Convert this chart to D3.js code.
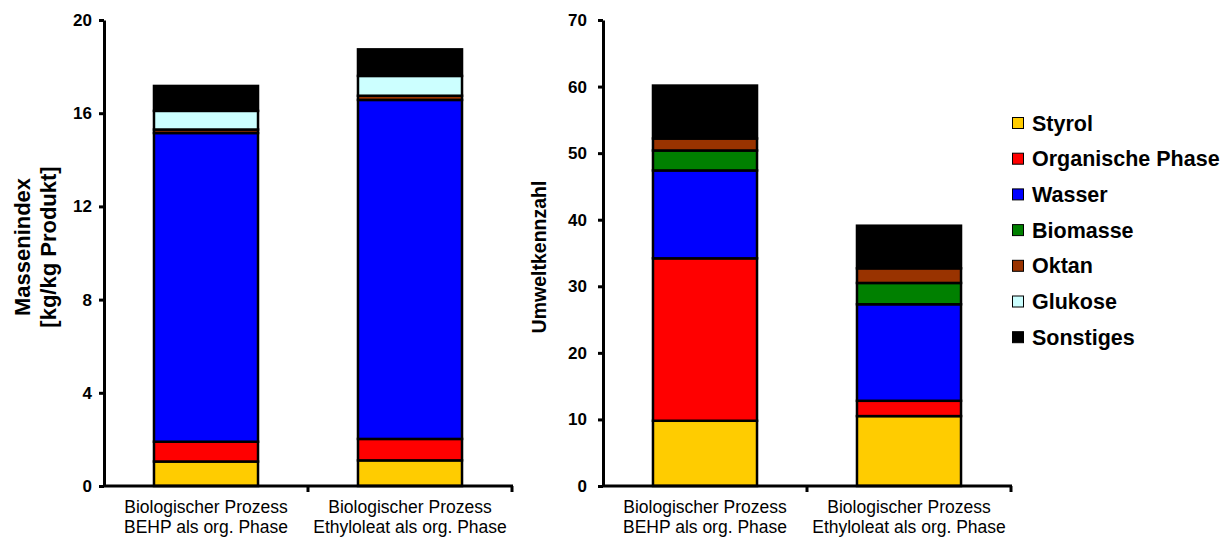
<!DOCTYPE html>
<html>
<head>
<meta charset="utf-8">
<script src="https://cdn.jsdelivr.net/npm/d3@7"></script>
<style>
  body { margin: 0; background: #fff; }
  svg { display: block; font-family: Arial, "Liberation Sans", sans-serif; }
</style>
</head>
<body>
<svg width="1229" height="537"></svg>
<script>
// categories (two label lines each)
var categoryLine1 = ["Biologischer Prozess", "Biologischer Prozess"];
var categoryLine2 = ["BEHP als org. Phase", "Ethyloleat als org. Phase"];
var categoryIds = ["behp", "ethyl"];

var seriesNames = ["Styrol", "Organische Phase", "Wasser", "Biomasse", "Oktan", "Glukose", "Sonstiges"];
var seriesColors = ["#ffcc00", "#ff0000", "#0000ff", "#008000", "#993300", "#ccffff", "#000000"];

// Massenindex [kg/kg Produkt]
var massBEHP  = [1.05, 0.85, 13.25, 0, 0.15, 0.80, 1.07];
var massEthyl = [1.10, 0.92, 14.55, 0, 0.18, 0.85, 1.14];
var massTicks = [0, 4, 8, 12, 16, 20];

// Umweltkennzahl
var umweltBEHP  = [9.8, 24.4, 13.2, 3.0, 1.8, 0, 7.95];
var umweltEthyl = [10.5, 2.3, 14.5, 3.2, 2.2, 0, 6.4];
var umweltTicks = [0, 10, 20, 30, 40, 50, 60, 70];

var svg = d3.select("svg");
var y_top = 20, y_bottom = 486;

function toRows(a, b) {
    return [a, b].map(function(vals, i) {
        var row = { id: categoryIds[i] };
        seriesNames.forEach(function(s, j) { row[s] = vals[j]; });
        return row;
    });
}

function drawPanel(opts) {
    var g = svg.append("g");
    var x = d3.scaleBand().domain(categoryIds).range([opts.x0, opts.x1]).padding(0);
    var y = d3.scaleLinear().domain([0, opts.max]).range([y_bottom, y_top]);
    var barW = x.bandwidth() * 0.51;

    var stacked = d3.stack().keys(seriesNames)(opts.rows);

    var layers = g.selectAll("g.layer")
        .data(stacked)
        .enter().append("g")
        .attr("class", "layer")
        .attr("fill", function(d, i) { return seriesColors[i]; });

    // skip empty segments so they don't leave a stray border line
    layers.selectAll("rect")
        .data(function(d) { return d.filter(function(p) { return p[1] - p[0] > 0; }); })
        .enter().append("rect")
        .attr("x", function(d) { return x(d.data.id) + (x.bandwidth() - barW) / 2; })
        .attr("width", barW)
        .attr("y", function(d) { return y(d[1]); })
        .attr("height", function(d) { return y(d[0]) - y(d[1]); })
        .attr("stroke", "#000")
        .attr("stroke-width", 2.5);

    // y axis
    var yAxis = g.append("g")
        .attr("transform", "translate(" + opts.x0 + ",0)")
        .call(d3.axisLeft(y).tickValues(opts.ticks).tickSize(5).tickSizeOuter(0).tickPadding(opts.pad));
    yAxis.attr("font-family", null).attr("font-size", null);
    yAxis.select(".domain").attr("stroke-width", 3);
    yAxis.selectAll(".tick line").attr("stroke-width", 3);
    yAxis.selectAll(".tick text")
        .attr("font-weight", "bold")
        .attr("font-size", "17px")
        .attr("fill", "#000");

    // x axis line with ticks at category boundaries
    g.append("line")
        .attr("x1", opts.x0 - 1).attr("x2", opts.x1 + 1)
        .attr("y1", y_bottom).attr("y2", y_bottom)
        .attr("stroke", "#000").attr("stroke-width", 3);
    g.selectAll("line.xtick")
        .data(categoryIds)
        .enter().append("line")
        .attr("class", "xtick")
        .attr("x1", function(d) { return x(d) + x.bandwidth(); })
        .attr("x2", function(d) { return x(d) + x.bandwidth(); })
        .attr("y1", y_bottom).attr("y2", y_bottom + 6)
        .attr("stroke", "#000").attr("stroke-width", 3);

    // category labels
    var lab = g.selectAll("text.cat")
        .data(categoryIds)
        .enter().append("text")
        .attr("class", "cat")
        .attr("text-anchor", "middle")
        .attr("font-size", "17.5px")
        .attr("fill", "#000");
    lab.append("tspan")
        .attr("x", function(d) { return x(d) + x.bandwidth() / 2; })
        .attr("y", 513)
        .text(function(d, i) { return categoryLine1[i]; });
    lab.append("tspan")
        .attr("x", function(d) { return x(d) + x.bandwidth() / 2; })
        .attr("y", 533)
        .text(function(d, i) { return categoryLine2[i]; });

    // axis title
    var title = g.append("text")
        .attr("transform", "translate(" + opts.titleX + "," + opts.titleY + ") rotate(-90)")
        .attr("text-anchor", "middle")
        .attr("font-weight", "bold")
        .attr("font-size", opts.titleSize)
        .attr("fill", "#000");
    opts.title.forEach(function(t, i) {
        title.append("tspan").attr("x", 0).attr("dy", i === 0 ? 0 : 26).text(t);
    });
}

drawPanel({
    rows: toRows(massBEHP, massEthyl),
    x0: 104, x1: 512, max: 20, ticks: massTicks, pad: 7,
    title: ["Massenindex", "[kg/kg Produkt]"], titleX: 30, titleY: 247, titleSize: "22px"
});

drawPanel({
    rows: toRows(umweltBEHP, umweltEthyl),
    x0: 603, x1: 1011, max: 70, ticks: umweltTicks, pad: 11,
    title: ["Umweltkennzahl"], titleX: 546, titleY: 257, titleSize: "19.5px"
});

// legend
var legend = svg.append("g").attr("transform", "translate(1012,123)");
var item = legend.selectAll("g")
    .data(seriesNames)
    .enter().append("g")
    .attr("transform", function(d, i) { return "translate(0," + (i * 35.7) + ")"; });
item.append("rect")
    .attr("x", 0.5).attr("y", -5.5)
    .attr("width", 11).attr("height", 11)
    .attr("fill", function(d, i) { return seriesColors[i]; })
    .attr("stroke", "#000").attr("stroke-width", 1);
item.append("text")
    .attr("x", 20).attr("y", 7.5)
    .attr("font-weight", "bold")
    .attr("font-size", "21.5px")
    .attr("fill", "#000")
    .text(function(d) { return d; });
</script>
</body>
</html>
